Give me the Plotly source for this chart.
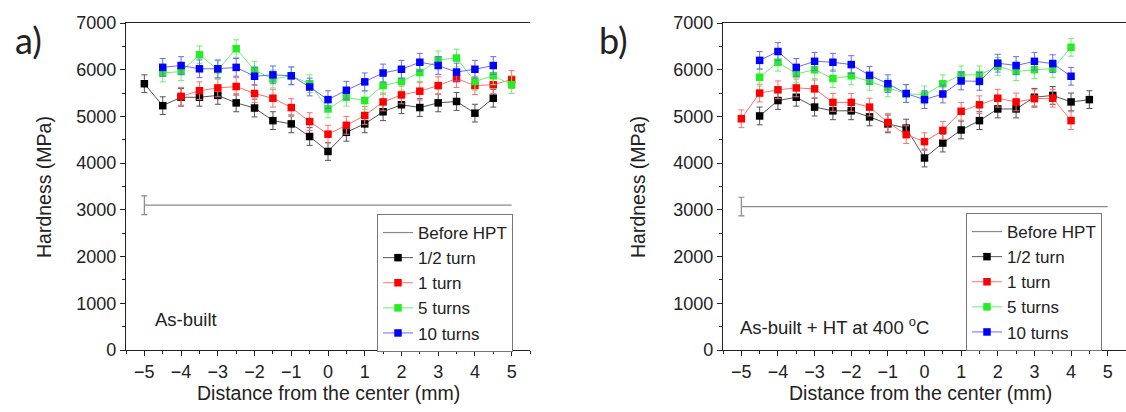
import plotly.graph_objects as go

# ---------------- data ----------------
X = [-5, -4.5, -4, -3.5, -3, -2.5, -2, -1.5, -1, -0.5, 0, 0.5, 1, 1.5, 2, 2.5, 3, 3.5, 4, 4.5, 5]

# panel a) As-built
a_half = [5700, 5230, 5410, 5410, 5450, 5290, 5180, 4910, 4840, 4570, 4250, 4660, 4840, 5100, 5250, 5190, 5290, 5320, 5070, 5390, None]
a_one  = [None, None, 5430, 5550, 5610, 5640, 5490, 5390, 5190, 4890, 4620, 4810, 5020, 5310, 5460, 5540, 5660, 5810, 5660, 5680, 5790]
a_five = [None, 5930, 5960, 6320, 6000, 6450, 5990, 5800, 5870, 5700, 5160, 5410, 5340, 5660, 5750, 5940, 6210, 6250, 5750, 5870, 5680]
a_ten  = [None, 6050, 6090, 6020, 6020, 6050, 5860, 5890, 5870, 5630, 5360, 5560, 5740, 5930, 6010, 6160, 6090, 5950, 6010, 6090, None]

# panel b) As-built + HT at 400 C
b_half = [None, 5010, 5340, 5410, 5200, 5120, 5120, 4990, 4840, 4750, 4110, 4430, 4710, 4910, 5160, 5160, 5410, 5450, 5310, 5360, None]
b_one  = [4950, 5500, 5570, 5610, 5590, 5300, 5300, 5200, 4870, 4610, 4460, 4700, 5110, 5250, 5390, 5310, 5380, 5390, 4910, None, None]
b_five = [None, 5840, 6160, 5910, 6000, 5810, 5870, 5750, 5610, 5490, 5460, 5700, 5890, 5890, 6070, 5960, 6000, 6020, 6480, None, None]
b_ten  = [None, 6200, 6390, 6050, 6180, 6160, 6110, 5880, 5700, 5490, 5360, 5480, 5760, 5750, 6140, 6090, 6180, 6130, 5860, None, None]

ERR = 190                       # typical half-height of error bars
before_x = [-5, 5]
before_a = [3100, 3100]
before_b = [3070, 3070]
before_err = 200

series_names = ["1/2 turn", "1 turn", "5 turns", "10 turns"]
x_ticks = [-5, -4, -3, -2, -1, 0, 1, 2, 3, 4, 5]
y_ticks = [0, 1000, 2000, 3000, 4000, 5000, 6000, 7000]

# ---------------- style ----------------
W, H = 1126, 412
FONT = "Liberation Sans, Arial, sans-serif"
TXT = "#222222"
marker_colors = ["#000000", "#ff0000", "#22ee22", "#0000ff"]
line_colors = ["#555555", "#ff7070", "#70ee70", "#6a6aff"]
GRAY = "#8a8a8a"

fig = go.Figure()


def add_panel(xa, ya, legend, series, before_y):
    fig.add_trace(go.Scatter(
        x=before_x, y=before_y, mode="lines", name="Before HPT",
        line=dict(color=GRAY, width=1.2), xaxis=xa, yaxis=ya, legend=legend))
    fig.add_trace(go.Scatter(
        x=before_x[:1], y=before_y[:1], mode="markers", showlegend=False,
        marker=dict(size=1, opacity=0),
        error_y=dict(type="constant", value=before_err, color=GRAY, thickness=1.2, width=3),
        xaxis=xa, yaxis=ya, hoverinfo="skip"))
    for name, vals, mc, lc in zip(series_names, series, marker_colors, line_colors):
        fig.add_trace(go.Scatter(
            x=X, y=vals, mode="lines+markers", name=name,
            line=dict(color=lc, width=1),
            marker=dict(symbol="square", size=7.5, color=mc),
            error_y=dict(type="constant", value=ERR, color=lc, thickness=1, width=3),
            xaxis=xa, yaxis=ya, legend=legend))


add_panel("x", "y", "legend", [a_half, a_one, a_five, a_ten], before_a)
add_panel("x2", "y2", "legend2", [b_half, b_one, b_five, b_ten], before_b)

ydom = [1 - 350 / H, 1 - 23 / H]
xdom_a = [126 / W, 530 / W]
xdom_b = [723 / W, 1.0]

xaxis_common = dict(
    range=[-5.5, 5.5], tickvals=x_ticks, ticks="outside", ticklen=5, tickwidth=1.2,
    tickcolor="#222", showline=True, linecolor="#222", linewidth=1.3, mirror=True,
    showgrid=False, zeroline=False, tickfont=dict(family=FONT, size=18, color=TXT),
    minor=dict(dtick=0.5, tick0=0, ticks="outside", ticklen=3, tickcolor="#222"),
    automargin=False,
)
yaxis_common = dict(
    range=[0, 7000], tickvals=y_ticks, ticks="outside", ticklen=5, tickwidth=1.2,
    tickcolor="#222", showline=True, linecolor="#222", linewidth=1.3,
    showgrid=False, zeroline=False, tickfont=dict(family=FONT, size=18, color=TXT),
    minor=dict(dtick=500, tick0=0, ticks="outside", ticklen=3, tickcolor="#222"),
    automargin=False,
)

legend_common = dict(
    font=dict(family=FONT, size=17, color=TXT), bgcolor="white",
    bordercolor="#777", borderwidth=1, xanchor="left", yanchor="top",
    tracegroupgap=0, itemwidth=30,
)

fig.update_layout(
    width=W, height=H, margin=dict(l=0, r=0, t=0, b=0, autoexpand=False),
    paper_bgcolor="white", plot_bgcolor="white",
    xaxis=dict(domain=xdom_a, anchor="y", **xaxis_common),
    yaxis=dict(domain=ydom, anchor="x", **yaxis_common),
    xaxis2=dict(domain=xdom_b, anchor="y2", **xaxis_common),
    yaxis2=dict(domain=ydom, anchor="x2", **yaxis_common),
    legend=dict(x=377 / W, y=1 - 214 / H, **legend_common),
    legend2=dict(x=966 / W, y=1 - 213 / H, **legend_common),
    showlegend=True,
)

ann_font = dict(family=FONT, size=19.5, color=TXT)
label_font = dict(family="Lato, Open Sans, sans-serif", size=36, color=TXT)
annotations = [
    dict(text="a)", x=28 / W, y=1 - 40 / H, font=label_font),
    dict(text="b)", x=613 / W, y=1 - 40 / H, font=label_font),
    dict(text="Hardness (MPa)", x=44 / W, y=1 - 187 / H, textangle=-90, font=ann_font),
    dict(text="Hardness (MPa)", x=638 / W, y=1 - 187 / H, textangle=-90, font=ann_font),
    dict(text="Distance from the center (mm)", x=328 / W, y=1 - 393 / H, font=ann_font),
    dict(text="Distance from the center (mm)", x=920 / W, y=1 - 393 / H, font=ann_font),
    dict(text="As-built", x=153 / W, y=1 - 319 / H, xanchor="left", font=dict(family=FONT, size=18.5, color=TXT)),
    dict(text="As-built + HT at 400 <sup>o</sup>C", x=738 / W, y=1 - 326 / H, xanchor="left",
         font=dict(family=FONT, size=18.5, color=TXT)),
]
for a in annotations:
    a.setdefault("xanchor", "center")
    a.update(xref="paper", yref="paper", yanchor="middle", showarrow=False)
fig.update_layout(annotations=annotations)

fig.write_html(
    "out.html",
    config={"displayModeBar": False},
    post_script="document.body.style.margin='0';document.body.style.overflow='hidden';",
)
